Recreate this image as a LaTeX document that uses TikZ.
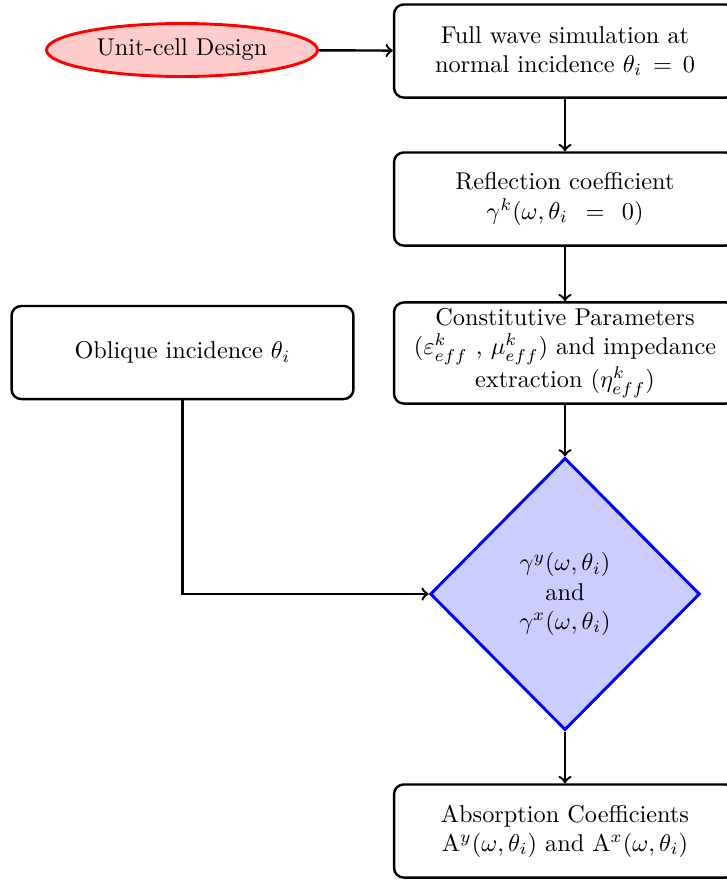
\documentclass[tikz,border=0pt]{standalone}
\usetikzlibrary{shapes.geometric,arrows}
\begin{document}
\begin{tikzpicture}[x=0.4115pt,y=-0.4115pt,
  procbox/.style={draw,line width=1pt,rounded corners=4pt,minimum width=140.7pt,minimum height=38.3pt,align=center,inner sep=2pt},
  startell/.style={ellipse,draw=red,fill=red!20,line width=1.2pt,minimum width=111.5pt,minimum height=21.8pt,inner sep=1pt},
  decide/.style={diamond,draw=blue,fill=blue!20,line width=1.2pt,minimum width=111pt,minimum height=112pt,align=center,inner sep=0pt},
  conn/.style={line width=1pt,->}]
\useasboundingbox (0,0) rectangle (727,880);
\node[startell] (ucd) at (182,50) {Unit-cell Design};
\node[procbox] (fws) at (565,51) {Full wave simulation at\\normal incidence $\theta_i\,=\,0$};
\node[procbox] (rc) at (565,199) {Reflection coefficient\\$\gamma^k(\omega,\theta_i\;\,=\;\,0)$};
\node[procbox,minimum height=41.6pt] (cp) at (565,353) {Constitutive Parameters\\($\varepsilon^k_{eff}$ , $\mu^k_{eff}$) and impedance\\extraction ($\eta^k_{eff}$)};
\node[procbox] (obl) at (182.5,352.5) {Oblique incidence $\theta_i$};
\node[decide] (gam) at (565,594) {$\gamma^y(\omega,\theta_i)$\\and\\$\gamma^x(\omega,\theta_i)$};
\node[procbox] (abs) at (565,831) {Absorption Coefficients\\$\mathrm{A}^y(\omega,\theta_i)$ and $\mathrm{A}^x(\omega,\theta_i)$};
\draw[conn] (ucd) -- (fws);
\draw[conn] (fws) -- (rc);
\draw[conn] (rc) -- (cp);
\draw[conn] (cp) -- (gam);
\draw[conn] (gam) -- (abs);
\draw[conn] (obl.south) |- (gam.west);
\end{tikzpicture}
\end{document}
